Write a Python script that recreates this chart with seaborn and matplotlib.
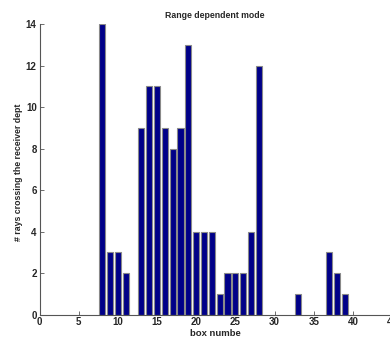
import matplotlib
matplotlib.use("Agg")
import matplotlib.pyplot as plt
import seaborn as sns
import pandas as pd

# Ray counts per range box
box_number = [8, 9, 10, 11, 13, 14, 15, 16, 17, 18, 19, 20, 21, 22, 23, 24, 25, 26, 27, 28, 33, 37, 38, 39]
ray_count = [14, 3, 3, 2, 9, 11, 11, 9, 8, 9, 13, 4, 4, 4, 1, 2, 2, 2, 4, 12, 1, 3, 2, 1]
x_ticks = [0, 5, 10, 15, 20, 25, 30, 35, 40, 45]
y_ticks = [0, 2, 4, 6, 8, 10, 12, 14]

sns.set_theme(style="white")
plt.rcParams["font.family"] = ["Liberation Sans", "DejaVu Sans"]

df = pd.DataFrame({"box": box_number, "rays": ray_count})

fig = plt.figure(figsize=(3.9, 3.41), dpi=100)
W, H = 390, 341
left, right, top, bottom = 39.5, 392.0, 24.0, 314.7
ax = fig.add_axes([left / W, 1 - bottom / H, (right - left) / W, (bottom - top) / H])

sns.barplot(data=df, x="box", y="rays", native_scale=True, width=0.8,
            color="#000088", saturation=1, edgecolor="#8a8a8a", linewidth=0.8, ax=ax)

ax.set_xlim(0, 45)
ax.set_ylim(0, 14)
ax.set_xticks(x_ticks)
ax.set_yticks(y_ticks)
ax.set_xticklabels([str(t) for t in x_ticks])
ax.set_yticklabels([str(t) for t in y_ticks])
ax.tick_params(direction="in", length=3, width=0.6, color="#555555",
               labelsize=7, pad=2, bottom=True, left=True)
for lab in ax.get_xticklabels() + ax.get_yticklabels():
    lab.set_fontweight("bold")

for side in ["top", "right"]:
    ax.spines[side].set_visible(False)
for side in ["left", "bottom"]:
    ax.spines[side].set_color("#555555")
    ax.spines[side].set_linewidth(0.8)

ax.set_xlabel("")
ax.set_ylabel("")
fig.text(165 / W, 1 - 15 / H, "Range dependent mode", fontsize=6.3, fontweight="bold",
         ha="left", va="center")
fig.text(190 / W, 1 - 334 / H, "box numbe", fontsize=6.8, fontweight="bold",
         ha="left", va="center")
fig.text(19 / W, 1 - 241 / H, "# rays crossing the receiver dept", fontsize=6.3,
         fontweight="bold", rotation=90, ha="center", va="bottom")

fig.savefig("out.png", dpi=100)
